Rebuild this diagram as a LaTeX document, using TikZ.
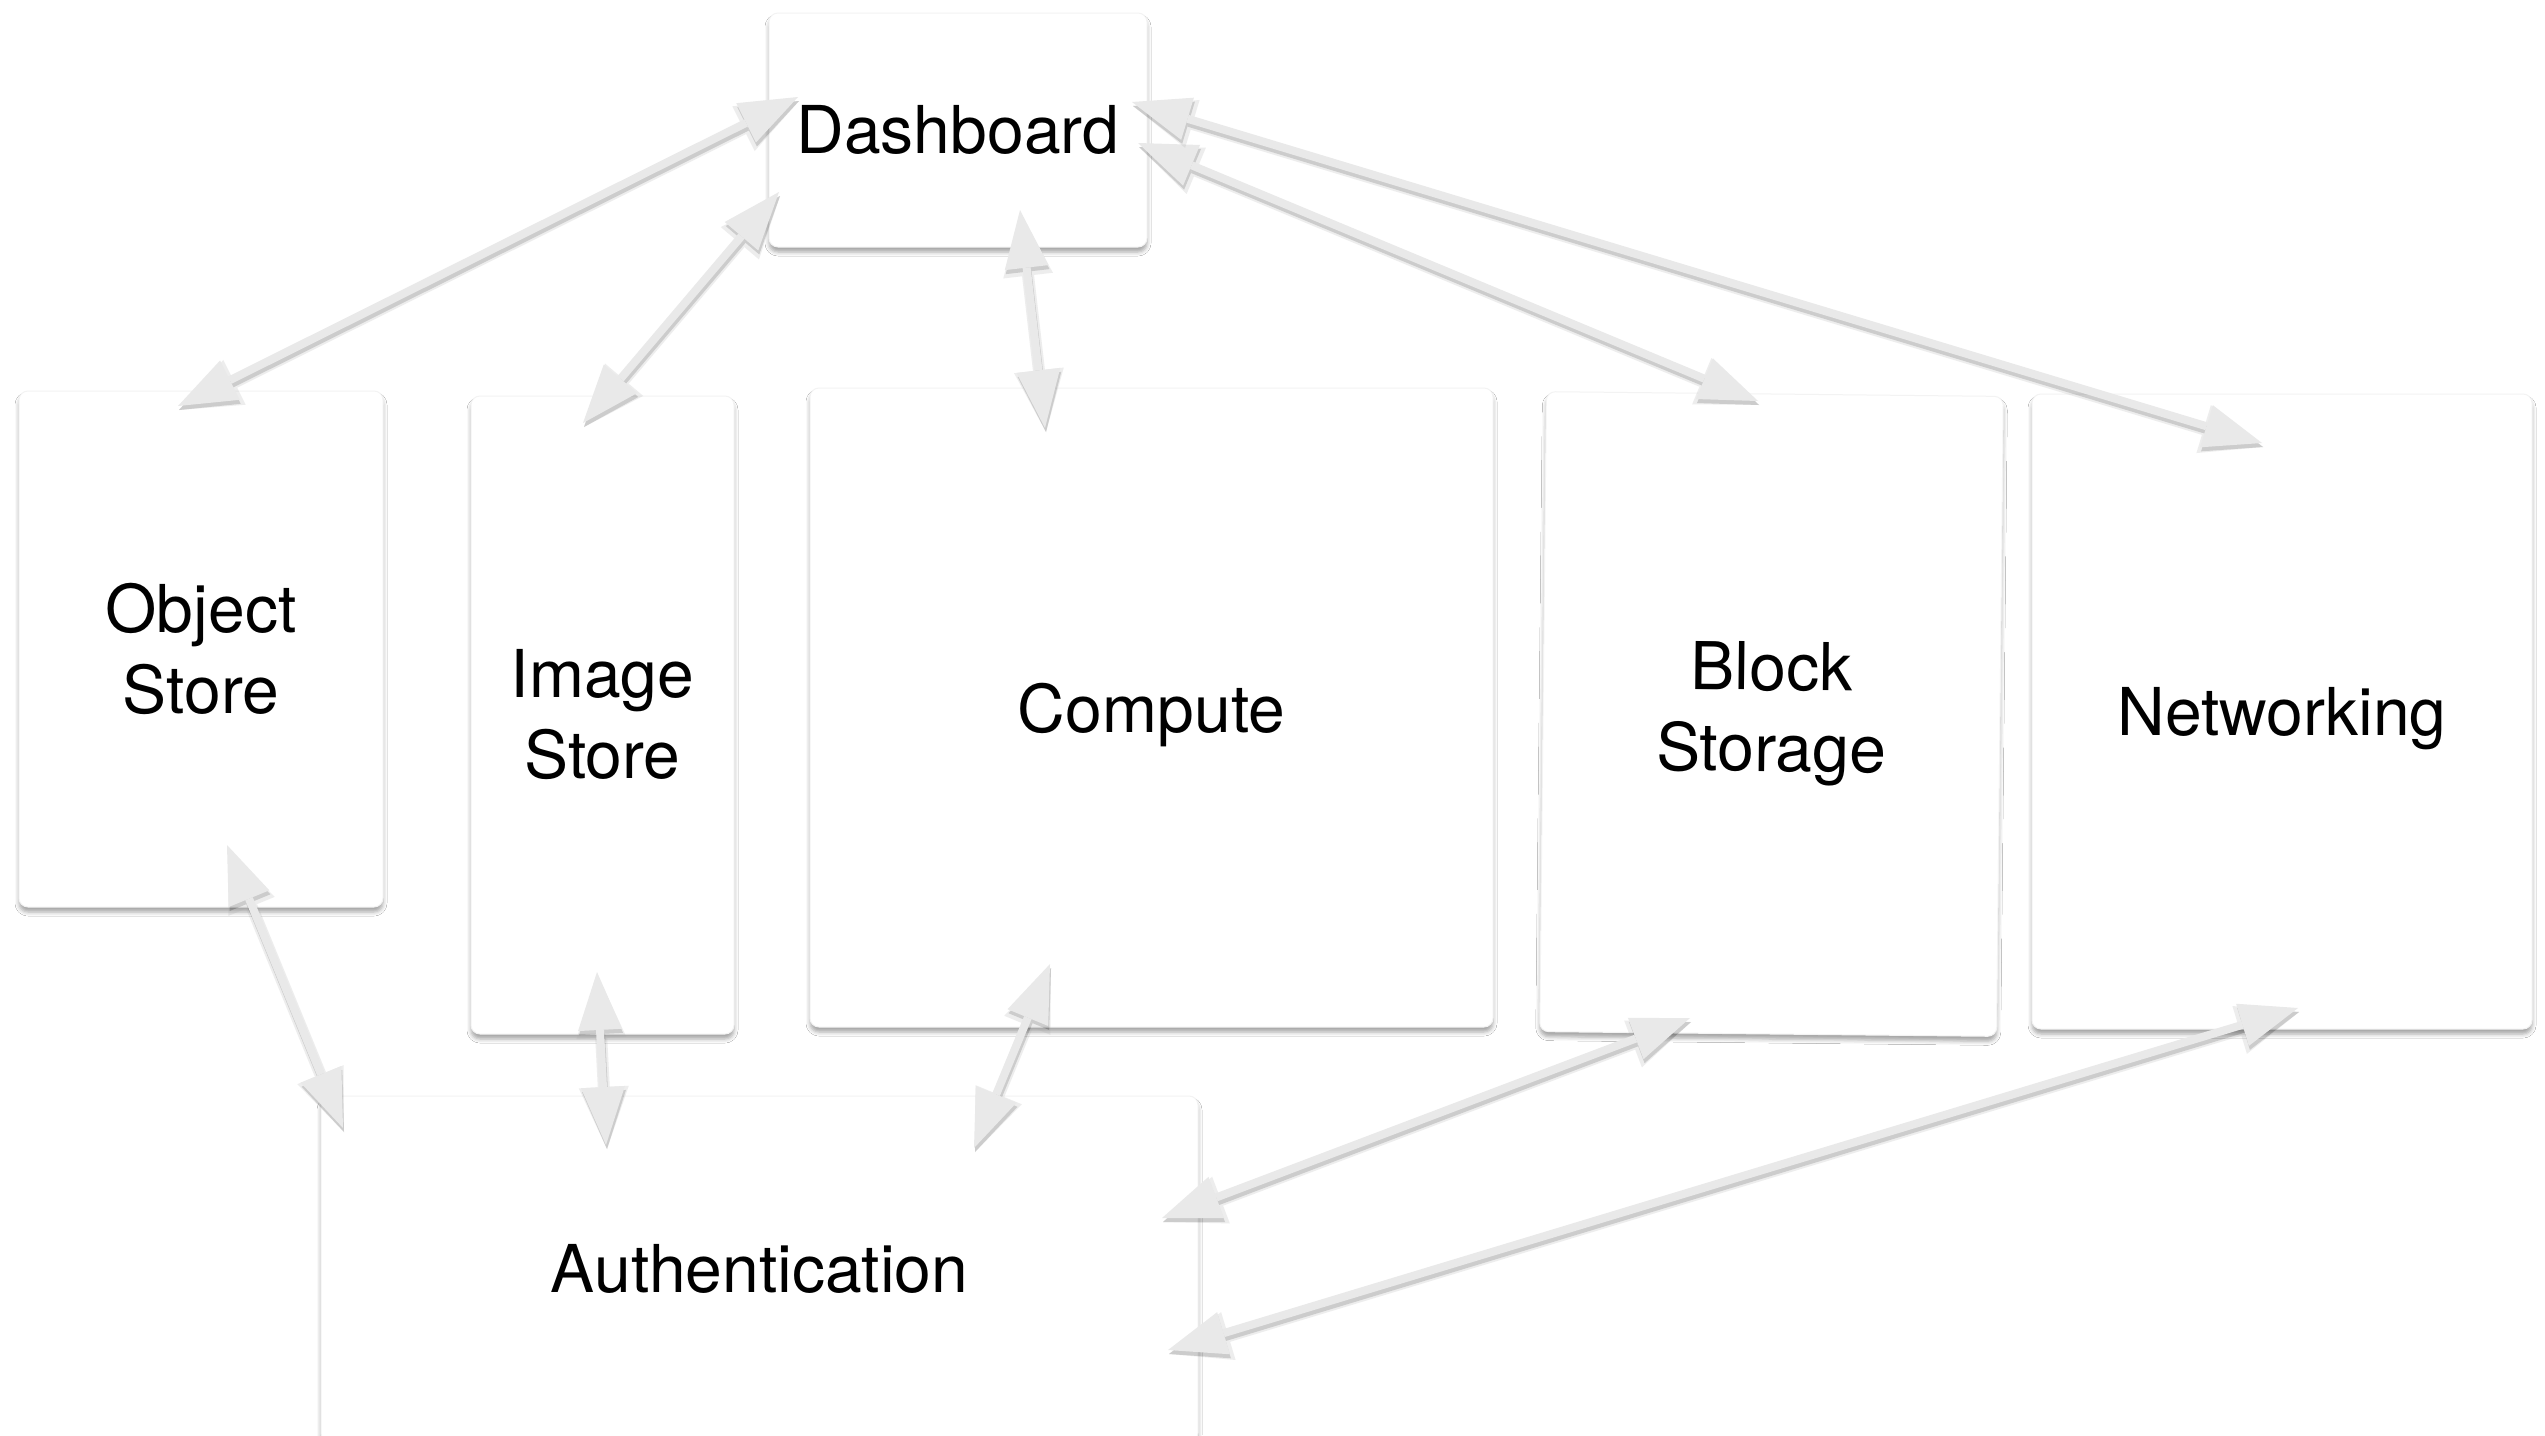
\documentclass[tikz,border=0pt]{standalone}
\usepackage{fontspec}
\setmainfont{TeX Gyre Heros}
\usetikzlibrary{arrows.meta,calc,shadows.blur}

\definecolor{linkgray}{HTML}{E9E9E9}
\definecolor{boxedge}{HTML}{F3F3F3}

\tikzset{
  comp/.style={rectangle, rounded corners=9pt, fill=white, draw=boxedge,
    line width=1pt, align=center, inner sep=0pt,
    font=\fontsize{66pt}{81pt}\selectfont,
    blur shadow={shadow xshift=0pt, shadow yshift=-5pt,
      shadow blur radius=4pt, shadow opacity=35}},
  tips/.style={{Triangle[length=58pt,width=44pt,line width=0pt]}-{Triangle[length=58pt,width=44pt,line width=0pt]}},
  bigtips/.style={{Triangle[length=62pt,width=50pt,line width=0pt]}-{Triangle[length=62pt,width=50pt,line width=0pt]}},
  linkbody/.style={tips, line width=8pt, draw=linkgray, fill=linkgray},
  shadeouter/.style={bigtips, line width=12pt, draw=black!35, fill=black!35},
  shadeinner/.style={tips, line width=8pt, draw=black, fill=black},
}

% a two-way connector with a soft drop shadow
\newcommand\linkpair[2]{%
  \begin{scope}[transparency group, opacity=0.2]
    \draw[shadeouter, transform canvas={shift={(1pt,-4pt)}}] (#1) -- (#2);
    \draw[shadeinner, transform canvas={shift={(1pt,-4pt)}}] (#1) -- (#2);
  \end{scope}
  \draw[linkbody] (#1) -- (#2);}

\begin{document}
\begin{tikzpicture}[x=1pt, y=-1pt]
  \fill[white] (0,0) rectangle (2545,1435);
  \path[use as bounding box] (0,0) rectangle (2545,1435);
  \clip (0,0) rectangle (2545,1435);

  % components
  \node[comp, minimum width=378pt, minimum height=234pt] (dash) at (958,130) {Dashboard};
  \node[comp, minimum width=364pt, minimum height=516pt] (obj) at (201,649) {Object\\Store};
  \node[comp, minimum width=263pt, minimum height=638pt] (img) at (602.5,715) {Image\\Store};
  \node[comp, minimum width=683pt, minimum height=639pt, text depth=0pt] (cmp) at (1151.5,707.5) {Compute};
  \node[comp, minimum width=457pt, minimum height=640pt, rotate=-0.6] (blk) at (1771.5,714) {Block\\Storage};
  \node[comp, minimum width=500pt, minimum height=635pt, text depth=0pt] (net) at (2282,711.5) {Networking};
  \node[comp, minimum width=877pt, minimum height=346pt] (auth) at (759.5,1269) {Authentication};

  % connector ends on the dashboard
  \coordinate (dObj) at ($(dash.center)+(-160,-33)$);
  \coordinate (dImg) at ($(dash.center)+(-179,62)$);
  \coordinate (dCmp) at ($(dash.center)+(62,80)$);
  \coordinate (dBlk) at ($(dash.center)+(180,13)$);
  \coordinate (dNet) at ($(dash.center)+(174,-28)$);

  % connector ends on the services
  \coordinate (objTop) at ($(obj.center)+(-23,-243)$);
  \coordinate (objBot) at ($(obj.center)+(26,196)$);
  \coordinate (imgTop) at ($(img.center)+(-19.5,-292)$);
  \coordinate (imgBot) at ($(img.center)+(-5.5,257)$);
  \coordinate (cmpTop) at ($(cmp.center)+(-106.5,-279.5)$);
  \coordinate (cmpBot) at ($(cmp.center)+(-101.5,256.5)$);
  \coordinate (blkTop) at ($(blk.center)+(-13.5,-313)$);
  \coordinate (blkBot) at ($(blk.center)+(-81.5,304)$);
  \coordinate (netTop) at ($(net.center)+(-20,-268.5)$);
  \coordinate (netBot) at ($(net.center)+(16,296.5)$);

  % connector ends on authentication
  \coordinate (aObj) at ($(auth.center)+(-416.5,-141)$);
  \coordinate (aImg) at ($(auth.center)+(-153.5,-124)$);
  \coordinate (aCmp) at ($(auth.center)+(214.5,-121)$);
  \coordinate (aBlk) at ($(auth.center)+(402.5,-51)$);
  \coordinate (aNet) at ($(auth.center)+(408.5,81)$);

  % dashboard links
  \linkpair{dObj}{objTop}
  \linkpair{dImg}{imgTop}
  \linkpair{dCmp}{cmpTop}
  \linkpair{dBlk}{blkTop}
  \linkpair{dNet}{netTop}

  % authentication links
  \linkpair{objBot}{aObj}
  \linkpair{imgBot}{aImg}
  \linkpair{cmpBot}{aCmp}
  \linkpair{blkBot}{aBlk}
  \linkpair{netBot}{aNet}
\end{tikzpicture}
\end{document}
